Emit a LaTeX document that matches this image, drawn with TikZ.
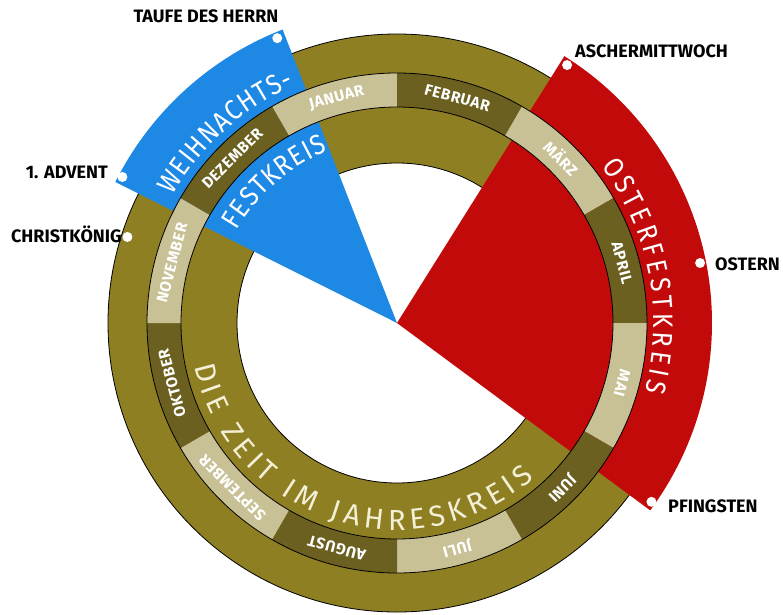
\documentclass[tikz,border=0pt]{standalone}
\usepackage{fontspec}
\setmainfont{Fira Sans}
\newfontfamily\condfont[FakeStretch=0.88]{Fira Sans}
\newfontfamily\monthfont[LetterSpace=4]{Fira Sans}
\usetikzlibrary{decorations.text}
\definecolor{olivering}{HTML}{8E7F22}
\definecolor{monthdark}{HTML}{6B6020}
\definecolor{monthlight}{HTML}{C9C196}
\definecolor{xmasblue}{HTML}{1E88E5}
\definecolor{easterred}{HTML}{C20A0A}
\definecolor{cream}{HTML}{F4F0D8}
\newcommand{\bigtxt}{\condfont\fontsize{28}{28}\selectfont}
\newcommand{\ringtxt}{\fontsize{29}{29}\selectfont}

\begin{document}
\begin{tikzpicture}[x=1pt,y=1pt,
    dot/.style={circle,fill=white,inner sep=0pt,minimum size=10pt},
    lbl/.style={font=\bfseries\fontsize{18}{18}\selectfont,inner sep=0pt},
    month/.style={font=\monthfont\bfseries\fontsize{15.5}{15.5}\selectfont,text=white,inner sep=0pt}]
\useasboundingbox (-397,-291) rectangle (386,323);
\fill[olivering,even odd rule] (0,0) circle[radius=289pt] (0,0) circle[radius=160pt];
\draw[line width=0.8pt] (0,0) circle[radius=289pt] (0,0) circle[radius=160pt];
\fill[xmasblue] (0,0) -- (153.4:315) arc[start angle=153.4,end angle=111.3,radius=315pt] -- cycle;
\fill[easterred] (0,0) -- (57.9:315) arc[start angle=57.9,end angle=-36.5,radius=315pt] -- cycle;
\foreach \m [count=\i from 0] in {JANUAR,FEBRUAR,MÄRZ,APRIL,MAI,JUNI,JULI,AUGUST,SEPTEMBER,OKTOBER,NOVEMBER,DEZEMBER} {
  \pgfmathsetmacro{\s}{120-30*\i}
  \pgfmathsetmacro{\e}{90-30*\i}
  \ifodd\i \def\c{monthdark}\else\def\c{monthlight}\fi
  \fill[\c] (\s:250) arc[start angle=\s,end angle=\e,radius=250pt] -- (\e:216) arc[start angle=\e,end angle=\s,radius=216pt] -- cycle;
  \node[month,rotate=\s-105] (m\i) at (\s-15:233) {\m};
}
\draw[line width=0.8pt] (0,0) circle[radius=250pt] (0,0) circle[radius=216pt];
\path[decorate,decoration={text along path,text align={fit to path},text={|\bigtxt\color{white}|WEIHNACHTS-}}] (150.5:258) arc[start angle=150.5,end angle=113.3,radius=258pt];
\path[decorate,decoration={text along path,text align={fit to path},text={|\bigtxt\color{white}|FESTKREIS}}] (150:185) arc[start angle=150,end angle=112,radius=185pt];
\path[decorate,decoration={text along path,text align={fit to path},text={|\bigtxt\color{white}|OSTERFESTKREIS}}] (37.5:257) arc[start angle=37.5,end angle=-15.4,radius=257pt];
\path[decorate,decoration={text along path,text align={fit to path},text={|\ringtxt\color{cream}|DIE ZEIT IM JAHRESKREIS}}] (192:207) arc[start angle=192,end angle=311.5,radius=207pt];
\node[dot] (taufe) at (112.8:309) {};
\node[dot] (advent) at (152:311) {};
\node[dot] (koenig) at (162.3:283) {};
\node[dot] (ascher) at (56.6:309) {};
\node[dot] (ostern) at (11.2:309) {};
\node[dot] (pfingst) at (-35.1:311) {};
\node[lbl,anchor=base] (ttaufe) at (-191,301) {TAUFE DES HERRN};
\node[lbl,anchor=base east] (tadvent) at (-289,145) {1. ADVENT};
\node[lbl,anchor=base east] (tkoenig) at (-275,81) {CHRISTKÖNIG};
\node[lbl,anchor=base west] (tascher) at (178,266) {ASCHERMITTWOCH};
\node[lbl,anchor=base west] (tostern) at (318,53) {OSTERN};
\node[lbl,anchor=base west] (tpfingst) at (271,-189) {PFINGSTEN};
\end{tikzpicture}
\end{document}
